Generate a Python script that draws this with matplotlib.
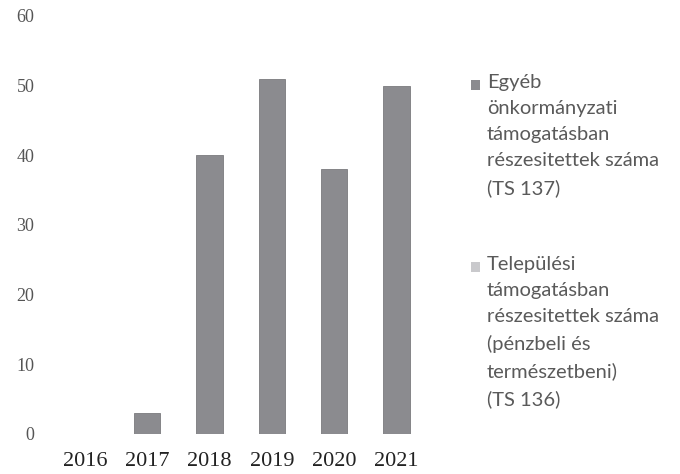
import matplotlib.pyplot as plt
from matplotlib.patches import Rectangle

years = ["2016", "2017", "2018", "2019", "2020", "2021"]
ts137 = [0, 3, 40, 51, 38, 50]
ts136 = [0, 0, 0, 0, 0, 0]
labels = ["Egyéb\nönkormányzati\ntámogatásban\nrészesitettek száma\n(TS 137)",
          "Települési\ntámogatásban\nrészesitettek száma\n(pénzbeli és\ntermészetbeni)\n(TS 136)"]
colors = ["#8b8b8f", "#c9c9cc"]

fig = plt.figure(figsize=(6.8, 4.74), dpi=100)
ax = fig.add_axes([0.079, 0.0844, 0.55, 0.882])

x = range(len(years))
ax.bar(x, ts137, width=0.42, color=colors[0], edgecolor="#7a7a7e", linewidth=0.6)
ax.bar(x, ts136, width=0.42, bottom=ts137, color=colors[1], linewidth=0)

ax.set_xlim(-0.5, 5.5)
ax.set_ylim(0, 60)
ax.set_yticks(range(0, 61, 10))
ax.set_xticks(list(x))
ax.set_xticklabels(years)
for s in ax.spines.values():
    s.set_visible(False)
ax.tick_params(length=0)
ax.tick_params(axis="y", pad=14, labelsize=13, labelcolor="#555555")
ax.tick_params(axis="x", pad=13, labelsize=16, labelcolor="#222222")
for t in ax.get_xticklabels() + ax.get_yticklabels():
    t.set_fontfamily("Liberation Serif")

# legend drawn by hand so the square sits on the first line
tops = [0.821, 0.437]
for lab, col, ty in zip(labels, colors, tops):
    fig.patches.append(Rectangle((0.693, ty - 0.011), 0.0135, 0.021, transform=fig.transFigure,
                                 facecolor=col, edgecolor="none"))
    fig.text(0.716, ty + 0.022, lab, ha="left", va="top", fontsize=14.5, color="#5a5a5a",
             family="Lato", linespacing=1.64)

fig.savefig("out.png", dpi=100)
